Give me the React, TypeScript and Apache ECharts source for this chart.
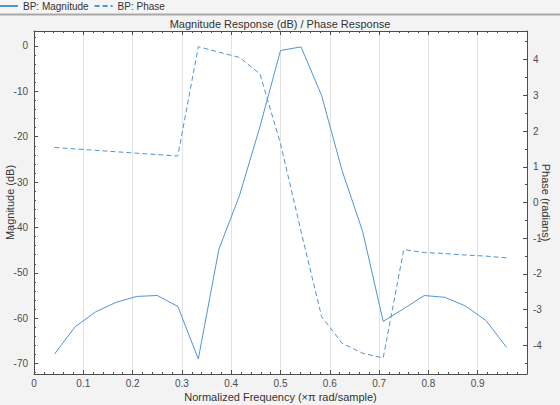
import React, { useEffect, useRef } from "react";
import * as echarts from "echarts";

const freq = [0.0417, 0.0833, 0.125, 0.1667, 0.2083, 0.25, 0.2917, 0.3333, 0.375, 0.4167, 0.4583, 0.5, 0.5417, 0.5833, 0.625, 0.6667, 0.7083, 0.75, 0.7917, 0.8333, 0.875, 0.9167, 0.9583];
const magnitudeDb = [-67.9, -61.9, -58.6, -56.5, -55.2, -55.0, -57.4, -69.0, -44.8, -33.0, -17.8, -1.0, -0.2, -10.9, -27.5, -40.9, -60.7, -57.9, -55.0, -55.4, -57.3, -60.5, -66.4];
const phaseRad = [1.54, 1.50, 1.46, 1.42, 1.38, 1.34, 1.30, 4.36, 4.21, 4.06, 3.60, 1.65, -0.81, -3.19, -3.94, -4.22, -4.35, -1.32, -1.40, -1.43, -1.47, -1.50, -1.55];

const legendNames = ["BP: Magnitude", "BP: Phase"];
const titleText = "Magnitude Response (dB) / Phase Response";
const xName = "Normalized Frequency (×π rad/sample)";
const yLeftName = "Magnitude (dB)";
const yRightName = "Phase (radians)";

const FONT = "Arial, 'Liberation Sans', Helvetica, sans-serif";
const LINE = "#4f94d4";
const AXIS = "#4d4d4d";
const TEXT = "#333333";

export default function App() {
  const ref = useRef<HTMLDivElement>(null);
  useEffect(() => {
    if (!ref.current) return;
    const chart = echarts.init(ref.current, undefined, { renderer: "svg" });
    const axisCommon = {
      axisLine: { show: true, onZero: false, lineStyle: { color: AXIS, width: 1 } },
      axisTick: { show: true, inside: true, length: 4, lineStyle: { color: AXIS } },
      minorTick: { show: true, length: 2, lineStyle: { color: AXIS } },
      axisLabel: { color: AXIS, fontSize: 10, fontFamily: FONT },
      nameTextStyle: { color: TEXT, fontSize: 11, fontFamily: FONT },
      nameMoveOverlap: false,
    };
    chart.setOption({
      animation: false,
      backgroundColor: "#f3f3f3",
      textStyle: { fontFamily: FONT },
      title: {
        text: titleText,
        left: "center",
        top: 13,
        textStyle: { fontSize: 11, fontWeight: "normal", color: TEXT, fontFamily: FONT },
      },
      legend: {
        data: legendNames,
        left: -1,
        top: 1,
        padding: 0,
        itemWidth: 18,
        itemHeight: 8,
        itemGap: 5,
        itemStyle: { opacity: 0 },
        textStyle: { fontSize: 10, color: TEXT, fontFamily: FONT },
      },
      graphic: [
        { type: "rect", left: 0, top: 0, shape: { width: 560, height: 14 }, style: { fill: "#f5f5f5" }, z: -1, silent: true },
        { type: "line", shape: { x1: 0, y1: 14.5, x2: 560, y2: 14.5 }, style: { stroke: "#a9a9a9", lineWidth: 2 }, silent: true },
      ],
      grid: {
        left: 34,
        right: 33,
        top: 31,
        bottom: 31,
        show: true,
        backgroundColor: "#ffffff",
        borderWidth: 0,
        containLabel: false,
        outerBoundsMode: "none",
      },
      xAxis: [
        {
          ...axisCommon,
          type: "value",
          min: 0,
          max: 1,
          interval: 0.1,
          minorTick: { show: true, splitNumber: 5, length: 2, lineStyle: { color: AXIS } },
          splitLine: { show: true, lineStyle: { color: "#e3e3e3", width: 1 } },
          axisLabel: { ...axisCommon.axisLabel, showMaxLabel: false, margin: 4 },
          name: xName,
          nameLocation: "middle",
          nameGap: 17,
        },
        {
          ...axisCommon,
          type: "value",
          position: "top",
          min: 0,
          max: 1,
          interval: 0.1,
          minorTick: { show: true, splitNumber: 5, length: 2, lineStyle: { color: AXIS } },
          splitLine: { show: false },
          axisLabel: { show: false },
        },
      ],
      yAxis: [
        {
          ...axisCommon,
          type: "value",
          min: -72.3,
          max: 3.3,
          splitNumber: 8,
          minInterval: 10,
          maxInterval: 10,
          minorTick: { show: true, splitNumber: 5, length: 2, lineStyle: { color: AXIS } },
          splitLine: { show: false },
          axisLabel: { ...axisCommon.axisLabel, showMinLabel: false, showMaxLabel: false, margin: 6 },
          name: yLeftName,
          nameLocation: "middle",
          nameRotate: 90,
          nameGap: 19,
        },
        {
          ...axisCommon,
          type: "value",
          position: "right",
          min: -4.8,
          max: 4.8,
          splitNumber: 10,
          minInterval: 1,
          maxInterval: 1,
          minorTick: { show: true, splitNumber: 2, length: 2, lineStyle: { color: AXIS } },
          splitLine: { show: false },
          axisLabel: { ...axisCommon.axisLabel, showMinLabel: false, showMaxLabel: false, margin: 6 },
          name: yRightName,
          nameLocation: "middle",
          nameRotate: -90,
          nameGap: 13,
        },
      ],
      series: [
        {
          name: legendNames[0],
          type: "line",
          xAxisIndex: 0,
          yAxisIndex: 0,
          data: freq.map((f, i) => [f, magnitudeDb[i]]),
          symbol: "none",
          lineStyle: { color: LINE, width: 1 },
          itemStyle: { color: LINE },
        },
        {
          name: legendNames[1],
          type: "line",
          xAxisIndex: 0,
          yAxisIndex: 1,
          data: freq.map((f, i) => [f, phaseRad[i]]),
          symbol: "none",
          lineStyle: { color: LINE, width: 1, type: [5, 3] },
          itemStyle: { color: LINE },
        },
      ],
    });
    return () => chart.dispose();
  }, []);
  return <div ref={ref} style={{ position: "fixed", left: 0, top: 0, width: 560, height: 405 }} />;
}
